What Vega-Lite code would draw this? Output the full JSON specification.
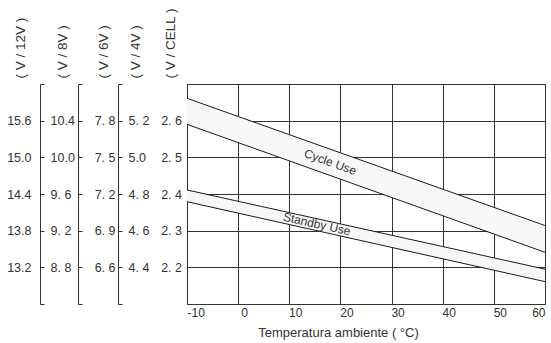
{
  "$schema": "https://vega.github.io/schema/vega-lite/v6.json",
  "width": 358,
  "height": 220,
  "autosize": "none",
  "padding": {"left": 187, "top": 84, "right": 6, "bottom": 39},
  "background": "white",
  "config": {
    "font": "Liberation Sans",
    "view": {"stroke": "#333", "strokeWidth": 1},
    "axis": {
      "labelFont": "Liberation Sans",
      "titleFont": "Liberation Sans",
      "labelColor": "#333",
      "titleColor": "#333",
      "titleFontWeight": "normal",
      "labelFontSize": 12.5,
      "titleFontSize": 13.5,
      "grid": false,
      "domainColor": "#333",
      "tickColor": "#333",
      "labelOverlap": false
    }
  },
  "datasets": {
    "bands": [
      {"band": "Cycle", "t": -10, "hi": 2.661, "lo": 2.59},
      {"band": "Cycle", "t": 60, "hi": 2.314, "lo": 2.241},
      {"band": "Standby", "t": -10, "hi": 2.411, "lo": 2.379},
      {"band": "Standby", "t": 60, "hi": 2.195, "lo": 2.161}
    ],
    "scales": [
      {"cell": 2.1, "v4": 4.2, "v6": 6.3, "v8": 8.4, "v12": 12.6},
      {"cell": 2.2, "v4": 4.4, "v6": 6.6, "v8": 8.8, "v12": 13.2},
      {"cell": 2.3, "v4": 4.6, "v6": 6.9, "v8": 9.2, "v12": 13.8},
      {"cell": 2.4, "v4": 4.8, "v6": 7.2, "v8": 9.6, "v12": 14.4},
      {"cell": 2.5, "v4": 5.0, "v6": 7.5, "v8": 10.0, "v12": 15.0},
      {"cell": 2.6, "v4": 5.2, "v6": 7.8, "v8": 10.4, "v12": 15.6},
      {"cell": 2.7, "v4": 5.4, "v6": 8.1, "v8": 10.8, "v12": 16.2}
    ]
  },
  "layer": [
    {
      "data": {"name": "bands"},
      "mark": {"type": "area", "fill": "#f7f7f7", "stroke": null},
      "encoding": {
        "x": {
          "field": "t", "type": "quantitative",
          "scale": {"domain": [-10, 60], "nice": false, "zero": false},
          "axis": {
            "values": [-10, 0, 10, 20, 30, 40, 50, 60],
            "grid": true, "gridColor": "#333", "gridWidth": 1,
            "ticks": false, "domain": false,
            "labelPadding": 3, "labelFontSize": 12,
            "labelExpr": "replace(datum.label, '−', '-')",
            "labelOffset": {"condition": {"test": "datum.value > -10 && datum.value < 60", "value": 6}, "value": 0},
            "title": "Temperatura ambiente ( °C)",
            "titleX": 151, "titleY": 28, "titleAlign": "center", "titleBaseline": "middle", "titleFontSize": 13
          }
        },
        "y": {
          "field": "hi", "type": "quantitative",
          "scale": {"domain": [2.1, 2.7], "nice": false, "zero": false},
          "axis": {
            "orient": "left", "offset": 0,
            "values": [2.1, 2.2, 2.3, 2.4, 2.5, 2.6, 2.7],
            "grid": true, "gridColor": "#333", "gridWidth": 1,
            "domain": false, "ticks": true, "tickSize": -4,
            "labelPadding": 9.5, "labelAlign": "right",
            "labelExpr": "datum.value < 2.15 || datum.value > 2.65 ? '' : replace(format(datum.value, '.1f'), '.', '. ')",
            "title": "( V / CELL )",
            "titleAngle": 270, "titleX": -17, "titleY": -6,
            "titleAlign": "left", "titleBaseline": "middle"
          }
        },
        "y2": {"field": "lo"},
        "detail": {"field": "band"}
      }
    },
    {
      "data": {"name": "bands"},
      "mark": {"type": "line", "color": "#1a1a1a", "strokeWidth": 1},
      "encoding": {
        "x": {"field": "t", "type": "quantitative"},
        "y": {"field": "hi", "type": "quantitative", "scale": {"domain": [2.1, 2.7], "nice": false, "zero": false}, "axis": null},
        "detail": {"field": "band"}
      }
    },
    {
      "data": {"name": "bands"},
      "mark": {"type": "line", "color": "#1a1a1a", "strokeWidth": 1},
      "encoding": {
        "x": {"field": "t", "type": "quantitative"},
        "y": {"field": "lo", "type": "quantitative", "scale": {"domain": [2.1, 2.7], "nice": false, "zero": false}, "axis": null},
        "detail": {"field": "band"}
      }
    },
    {
      "data": {"values": [{"label": "Cycle Use", "t": 18, "v": 2.487}]},
      "mark": {"type": "text", "angle": 20, "fontSize": 12, "color": "#333", "font": "Liberation Sans", "align": "center", "baseline": "middle"},
      "encoding": {
        "x": {"field": "t", "type": "quantitative"},
        "y": {"field": "v", "type": "quantitative", "scale": {"domain": [2.1, 2.7], "nice": false, "zero": false}, "axis": null},
        "text": {"field": "label"}
      }
    },
    {
      "data": {"values": [{"label": "Standby Use", "t": 15.4, "v": 2.318}]},
      "mark": {"type": "text", "angle": 12.5, "fontSize": 12, "color": "#333", "font": "Liberation Sans", "align": "center", "baseline": "middle"},
      "encoding": {
        "x": {"field": "t", "type": "quantitative"},
        "y": {"field": "v", "type": "quantitative", "scale": {"domain": [2.1, 2.7], "nice": false, "zero": false}, "axis": null},
        "text": {"field": "label"}
      }
    },
    {
      "data": {"name": "scales"},
      "mark": {"type": "point", "opacity": 0},
      "encoding": {
        "y": {
          "field": "v4", "type": "quantitative",
          "scale": {"domain": [4.2, 5.4], "nice": false, "zero": false},
          "axis": {
            "orient": "left", "offset": 59,
            "values": [4.2, 4.4, 4.6, 4.8, 5.0, 5.2, 5.4],
            "domain": false, "ticks": false,
            "labelPadding": 0, "labelAlign": "left",
            "labelExpr": "datum.value < 4.3 || datum.value > 5.3 ? '' : (datum.value > 4.9 && datum.value < 5.1) ? '5.0' : replace(format(datum.value, '.1f'), '.', '. ')",
            "title": "( V / 4V )",
            "titleAngle": 270, "titleX": 7, "titleY": -6,
            "titleAlign": "left", "titleBaseline": "middle"
          }
        }
      }
    },
    {
      "data": {"name": "scales"},
      "mark": {"type": "point", "opacity": 0},
      "encoding": {
        "y": {
          "field": "v6", "type": "quantitative",
          "scale": {"domain": [6.3, 8.1], "nice": false, "zero": false},
          "axis": {
            "orient": "left", "offset": 69,
            "values": [6.3, 6.6, 6.9, 7.2, 7.5, 7.8, 8.1],
            "domain": true, "ticks": true, "tickSize": -4,
            "labelPadding": 7, "labelAlign": "right",
            "labelExpr": "datum.value < 6.4 || datum.value > 8.0 ? '' : replace(format(datum.value, '.1f'), '.', '. ')",
            "title": "( V / 6V )",
            "titleAngle": 270, "titleX": -15, "titleY": -6,
            "titleAlign": "left", "titleBaseline": "middle"
          }
        }
      }
    },
    {
      "data": {"name": "scales"},
      "mark": {"type": "point", "opacity": 0},
      "encoding": {
        "y": {
          "field": "v8", "type": "quantitative",
          "scale": {"domain": [8.4, 10.8], "nice": false, "zero": false},
          "axis": {
            "orient": "left", "offset": 109,
            "values": [8.4, 8.8, 9.2, 9.6, 10.0, 10.4, 10.8],
            "domain": true, "ticks": true, "tickSize": -4,
            "labelPadding": 32, "labelAlign": "left",
            "labelExpr": "datum.value < 8.5 || datum.value > 10.7 ? '' : datum.value >= 9.9 ? format(datum.value, '.1f') : replace(format(datum.value, '.1f'), '.', '. ')",
            "title": "( V / 8V )",
            "titleAngle": 270, "titleX": -16, "titleY": -6,
            "titleAlign": "left", "titleBaseline": "middle"
          }
        }
      }
    },
    {
      "data": {"name": "scales"},
      "mark": {"type": "point", "opacity": 0},
      "encoding": {
        "y": {
          "field": "v12", "type": "quantitative",
          "scale": {"domain": [12.6, 16.2], "nice": false, "zero": false},
          "axis": {
            "orient": "left", "offset": 147,
            "values": [12.6, 13.2, 13.8, 14.4, 15.0, 15.6, 16.2],
            "domain": true, "ticks": true, "tickSize": -4,
            "labelPadding": 13, "labelAlign": "right",
            "labelExpr": "datum.value < 12.7 || datum.value > 16.1 ? '' : format(datum.value, '.1f')",
            "title": "( V / 12V )",
            "titleAngle": 270, "titleX": -20, "titleY": -6,
            "titleAlign": "left", "titleBaseline": "middle"
          }
        }
      }
    }
  ],
  "resolve": {"scale": {"y": "independent"}, "axis": {"y": "independent"}}
}
